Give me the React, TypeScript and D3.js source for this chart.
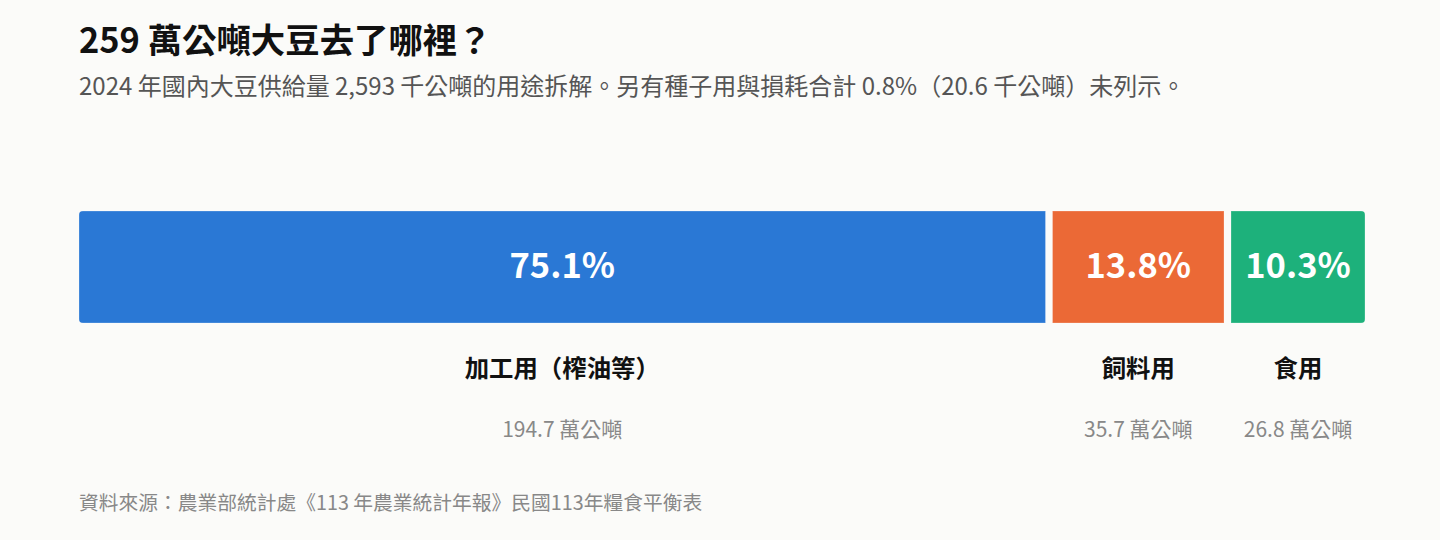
import React, {useEffect} from "react";
import * as d3 from "d3";

// 2024 大豆用途（萬公噸）
const categories = ["加工用（榨油等）", "飼料用", "食用"];
const values = [194.7, 35.7, 26.8];
const shares = [75.1, 13.8, 10.3];
const colors = ["#2a78d5", "#eb6936", "#1db17b"];

const title = "259 萬公噸大豆去了哪裡？";
const subtitle =
  "2024 年國內大豆供給量 2,593 千公噸的用途拆解。另有種子用與損耗合計 0.8%（20.6 千公噸）未列示。";
const source = "資料來源：農業部統計處《113 年農業統計年報》民國113年糧食平衡表";

const width = 1440;
const height = 540;
const left = 79;
const right = 1365;
const barTop = 211;
const barHeight = 112;
const gap = 7;
const font = `"Noto Sans CJK TC", "Noto Sans", sans-serif`;

const App = () => {
  useEffect(() => {
    document.body.style.margin = "0";
    document.body.style.background = "#fbfbf9";
  }, []);

  const total = d3.sum(values);
  const x = d3.scaleLinear().domain([0, total]).range([left, right]);
  const starts = d3.cumsum([0, ...values]);

  const segs = values.map((v, i) => {
    const x0 = x(starts[i]);
    const x1 = x(starts[i] + v);
    const w = i < values.length - 1 ? x1 - x0 - gap : x1 - x0;
    return {x0, w, cx: x0 + w / 2};
  });

  return (
    <svg width={width} height={height} style={{display: "block", background: "#fbfbf9"}} fontFamily={font}>
      <defs>
        <clipPath id="barClip">
          <rect x={left} y={barTop} width={right - left} height={barHeight} rx={4}/>
        </clipPath>
      </defs>
      <text x={left} y={53} fontSize={34.4} fontWeight={700} fill="#111">{title}</text>
      <text x={left} y={95} fontSize={24} fill="#555">{subtitle}</text>

      <g clipPath="url(#barClip)">
        {segs.map((s, i) => (
          <rect
            key={i}
            x={s.x0}
            y={barTop}
            width={s.w}
            height={barHeight}
            fill={colors[i]}
            stroke="#ffffff"
            strokeOpacity={0.25}
            strokeWidth={1}
          />
        ))}
      </g>
      {segs.map((s, i) => (
        <g key={i}>
          <text
            x={s.cx}
            y={barTop + barHeight / 2 - 4}
            textAnchor="middle"
            dominantBaseline="central"
            fontSize={34.5}
            fontWeight={700}
            fill="#ffffff"
          >
            {d3.format(".1f")(shares[i])}%
          </text>
          <text x={s.cx} y={377} textAnchor="middle" fontSize={24.4} fontWeight={700} fill="#111">
            {categories[i]}
          </text>
          <text x={s.cx} y={437} textAnchor="middle" fontSize={21} fill="#888">
            {d3.format(".1f")(values[i])} 萬公噸
          </text>
        </g>
      ))}

      <text x={left} y={510} fontSize={19.75} fill="#888">{source}</text>
    </svg>
  );
};

export default App;
